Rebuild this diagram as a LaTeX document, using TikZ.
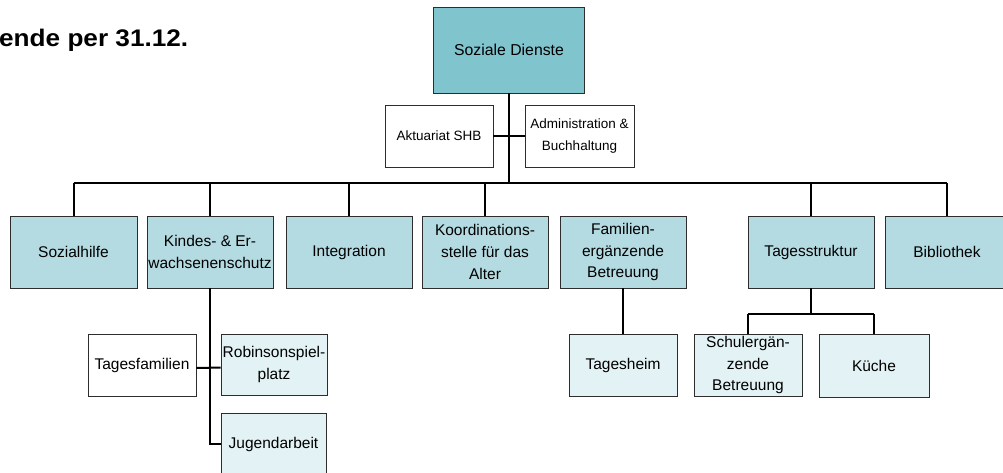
\documentclass[tikz,border=0pt]{standalone}
\usepackage{fontspec}
\setmainfont{Liberation Sans}
\definecolor{cSoz}{RGB}{128,196,206}
\definecolor{cLone}{RGB}{180,219,226}
\definecolor{cLthree}{RGB}{227,242,244}
\definecolor{cBorder}{RGB}{45,45,45}
\begin{document}
\begin{tikzpicture}[x=1pt,y=-1pt,
  orgbox/.style={draw=cBorder, line width=0.9pt, inner sep=0pt, align=center,
    font=\fontsize{15.5}{21.7}\selectfont},
  staffbox/.style={orgbox, fill=white, font=\fontsize{13.5}{22}\selectfont},
  topbox/.style={orgbox, fill=cSoz, font=\fontsize{15.8}{21.7}\selectfont},
  lonebox/.style={orgbox, fill=cLone},
  lthreebox/.style={orgbox, fill=cLthree},
  whitebox/.style={orgbox, fill=white},
  conn/.style={draw=black, line width=2pt}]
\useasboundingbox (0,0) rectangle (1003,472);
\clip (0,0) rectangle (1003,472);
% title
\node[anchor=base west, inner sep=0pt, font=\fontsize{24}{28}\bfseries\selectfont] (title) at (-1,46) {\scalebox{1.09}[1]{ende per 31.12.}};
% top and staff
\node[topbox, minimum width=151pt, minimum height=86pt] (soz) at (509,50) {Soziale Dienste};
\node[staffbox, minimum width=108pt, minimum height=62pt] (akt) at (439,136) {Aktuariat SHB};
\node[staffbox, minimum width=109pt, minimum height=62pt] (adm) at (579.5,136) {Administration \&\\Buchhaltung};
% level 1
\node[lonebox, minimum width=127pt, minimum height=72pt] (sozh) at (73.5,252) {Sozialhilfe};
\node[lonebox, minimum width=126pt, minimum height=72pt] (kes) at (210,252) {Kindes- \& Er-\\wachsenenschutz};
\node[lonebox, minimum width=126pt, minimum height=72pt] (int) at (349,252) {Integration};
\node[lonebox, minimum width=126pt, minimum height=72pt] (koo) at (485,252) {Koordinations-\\stelle für das\\Alter};
\node[lonebox, minimum width=126pt, minimum height=72pt] (fam) at (623,252) {Familien-\\ergänzende\\Betreuung};
\node[lonebox, minimum width=126pt, minimum height=72pt] (tag) at (811,252) {Tagesstruktur};
\node[lonebox, minimum width=124pt, minimum height=72pt] (bib) at (947,252) {Bibliothek};
% level 2/3
\node[whitebox, minimum width=108pt, minimum height=62pt] (tfam) at (142,365) {Tagesfamilien};
\node[lthreebox, minimum width=106pt, minimum height=61pt] (rob) at (274,364.5) {Robinsonspiel-\\platz};
\node[lthreebox, minimum width=105pt, minimum height=62pt] (jug) at (273.5,444) {Jugendarbeit};
\node[lthreebox, minimum width=108pt, minimum height=62pt] (tagh) at (623,365) {Tagesheim};
\node[lthreebox, minimum width=108pt, minimum height=62pt] (sch) at (748,365) {Schulergän-\\zende\\Betreuung};
\node[lthreebox, minimum width=110pt, minimum height=63pt] (kue) at (874,365.5) {Küche};
% connectors
\coordinate (bus) at (509,183);
\coordinate (tj) at (811,314);
\draw[conn] (soz.south) -- (soz.south |- bus);
\draw[conn] (akt.east) -- (adm.west);
\draw[conn] (sozh.north |- bus) -- (bib.north |- bus);
\draw[conn] (sozh.north |- bus) -- (sozh.north);
\draw[conn] (kes.north |- bus) -- (kes.north);
\draw[conn] (int.north |- bus) -- (int.north);
\draw[conn] (koo.north |- bus) -- (koo.north);
\draw[conn] (tag.north |- bus) -- (tag.north);
\draw[conn] (bib.north |- bus) -- (bib.north);
\draw[conn] (kes.south) |- (jug.west);
\draw[conn] ([yshift=-3pt]tfam.east) -- ([yshift=-3pt]rob.west);
\draw[conn] (fam.south) -- (tagh.north);
\draw[conn] (tag.south) -- (tj);
\draw[conn] (sch.north |- tj) -- (kue.north |- tj);
\draw[conn] (sch.north |- tj) -- (sch.north);
\draw[conn] (kue.north |- tj) -- (kue.north);
\end{tikzpicture}
\end{document}
